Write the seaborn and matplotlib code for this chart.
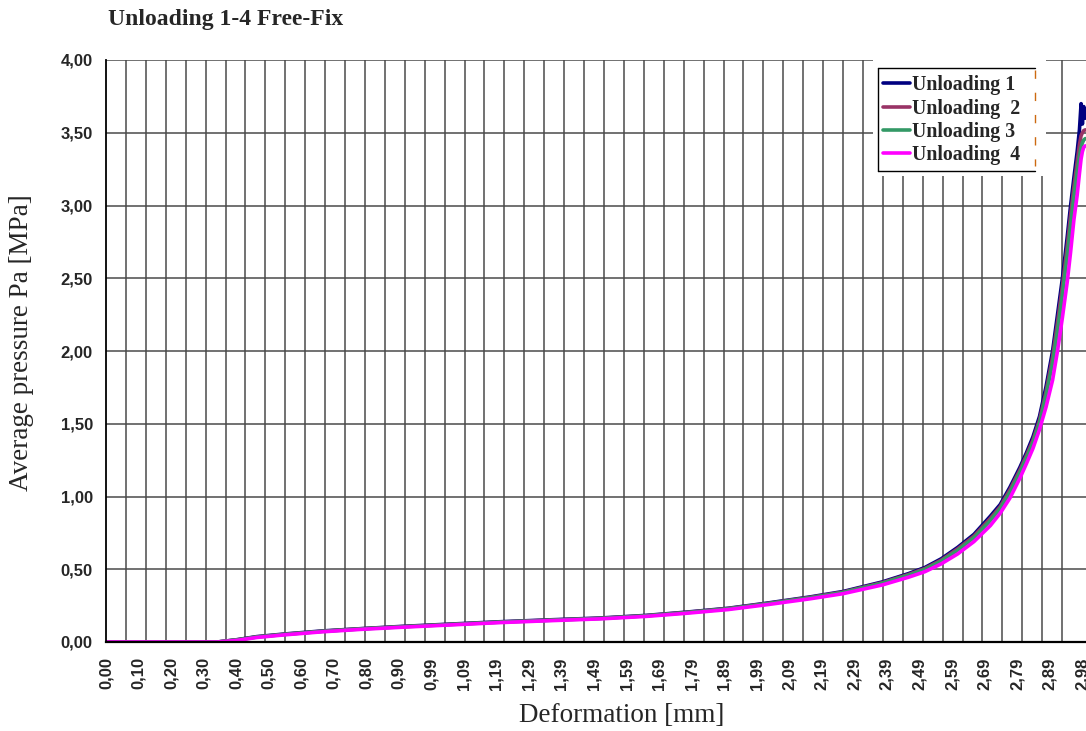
import numpy as np
import pandas as pd
import matplotlib
matplotlib.use("Agg")
import matplotlib.pyplot as plt
from matplotlib.lines import Line2D
from matplotlib.patches import Rectangle
import seaborn as sns

# Measured unloading curves: deformation [mm] vs. average pressure [MPa]
deformation_mm = [0.00, 0.34, 0.40, 0.46, 0.55, 0.66, 0.78, 0.90, 1.05, 1.20,
                  1.35, 1.51, 1.65, 1.77, 1.90, 2.02, 2.15, 2.25, 2.37, 2.45,
                  2.50, 2.55, 2.60, 2.65, 2.70, 2.73, 2.76, 2.79, 2.81, 2.83,
                  2.85, 2.87, 2.89, 2.905, 2.92, 2.935, 2.945, 2.955, 2.965, 2.972,
                  2.977, 2.981, 2.985, 2.990]

unloading_1 = [0.000, 0.000, 0.016, 0.037, 0.056, 0.076, 0.092, 0.107, 0.123, 0.139,
               0.152, 0.165, 0.183, 0.205, 0.232, 0.268, 0.310, 0.347, 0.413, 0.470,
               0.512, 0.572, 0.650, 0.740, 0.865, 0.945, 1.065, 1.200, 1.300, 1.410,
               1.550, 1.755, 2.000, 2.250, 2.500, 2.790, 3.000, 3.190, 3.370, 3.520,
               3.700, 3.560, 3.680, 3.600]

unloading_2 = [0.000, 0.000, 0.015, 0.035, 0.054, 0.074, 0.091, 0.105, 0.121, 0.137,
               0.150, 0.163, 0.181, 0.203, 0.230, 0.265, 0.307, 0.343, 0.408, 0.464,
               0.505, 0.563, 0.640, 0.728, 0.850, 0.930, 1.048, 1.182, 1.282, 1.388,
               1.525, 1.720, 1.960, 2.195, 2.445, 2.725, 2.935, 3.125, 3.300, 3.420,
               3.480, 3.500, 3.515, 3.520]

unloading_3 = [0.000, 0.000, 0.014, 0.034, 0.053, 0.073, 0.090, 0.104, 0.120, 0.136,
               0.149, 0.162, 0.180, 0.201, 0.228, 0.263, 0.304, 0.340, 0.404, 0.459,
               0.499, 0.556, 0.630, 0.717, 0.835, 0.918, 1.030, 1.165, 1.265, 1.370,
               1.505, 1.695, 1.920, 2.140, 2.390, 2.660, 2.870, 3.060, 3.230, 3.340,
               3.400, 3.430, 3.450, 3.460]

unloading_4 = [0.000, 0.000, 0.011, 0.031, 0.050, 0.070, 0.087, 0.101, 0.117, 0.133,
               0.146, 0.159, 0.176, 0.197, 0.223, 0.257, 0.297, 0.332, 0.392, 0.445,
               0.483, 0.537, 0.605, 0.690, 0.800, 0.885, 0.990, 1.125, 1.225, 1.330,
               1.460, 1.615, 1.800, 2.000, 2.230, 2.480, 2.680, 2.900, 3.070, 3.220,
               3.320, 3.370, 3.400, 3.410]

series_names = ["Unloading 1", "Unloading  2", "Unloading 3", "Unloading  4"]
series_colors = ["#000080", "#993366", "#339966", "#FF00FF"]

x_tick_labels = ["0,00", "0,10", "0,20", "0,30", "0,40", "0,50", "0,60", "0,70",
                 "0,80", "0,90", "0,99", "1,09", "1,19", "1,29", "1,39", "1,49",
                 "1,59", "1,69", "1,79", "1,89", "1,99", "2,09", "2,19", "2,29",
                 "2,39", "2,49", "2,59", "2,69", "2,79", "2,89", "2,98"]
y_tick_values = [0.0, 0.5, 1.0, 1.5, 2.0, 2.5, 3.0, 3.5, 4.0]

# long-format table for seaborn
frames = []
for name, values in zip(series_names, [unloading_1, unloading_2, unloading_3, unloading_4]):
    frames.append(pd.DataFrame({"Deformation": deformation_mm,
                                "Pressure": values,
                                "Series": name}))
df = pd.concat(frames, ignore_index=True)

sns.set_style("white")
plt.rcParams["font.family"] = ["Liberation Serif", "DejaVu Serif"]

W, H = 1086, 731
fig = plt.figure(figsize=(W / 100, H / 100), dpi=100)


def fx(px):
    return px / W


def fy(py):
    return 1 - py / H


ax = fig.add_axes([fx(106), fy(642), fx(1086) - fx(106), fy(60) - fy(642)])

sns.lineplot(data=df, x="Deformation", y="Pressure", hue="Series",
             hue_order=series_names, palette=dict(zip(series_names, series_colors)),
             sort=False, estimator=None, linewidth=2.6, legend=False, ax=ax)

ax.set_xlim(0, 2.992)
ax.set_ylim(0, 4)

# category-style x axis: labels every 49 samples, gridlines every 30 samples
label_pos = np.linspace(0, 2.98, len(x_tick_labels))
grid_pos = np.linspace(0, 2.98, 50)
ax.set_xticks(label_pos)
ax.set_xticklabels(x_tick_labels, rotation=90, fontfamily="Liberation Sans",
                   fontweight="bold", fontsize=12)
ax.set_xticks(grid_pos, minor=True)
ax.tick_params(axis="x", which="major", length=0, pad=11)
ax.tick_params(axis="x", which="minor", length=4.5, width=1.0, direction="out",
               color="#333333")

ax.set_yticks(y_tick_values)
ax.set_yticklabels([f"{v:.2f}".replace(".", ",") for v in y_tick_values],
                   fontfamily="Liberation Sans", fontweight="bold", fontsize=12)
ax.tick_params(axis="y", which="major", length=4.5, width=1.0, direction="out",
               color="#222222", pad=5)

ax.set_axisbelow(True)
ax.grid(False, axis="x", which="major")
ax.grid(True, axis="x", which="minor", color="#4a4a4a", linewidth=1.1)
ax.grid(True, axis="y", which="major", color="#4a4a4a", linewidth=1.1)

for side in ("top", "right"):
    ax.spines[side].set_visible(False)
ax.spines["left"].set_color("black")
ax.spines["left"].set_linewidth(1.3)
ax.spines["bottom"].set_color("black")
ax.spines["bottom"].set_linewidth(1.6)

ax.set_xlabel("Deformation [mm]", fontsize=19.5)
ax.xaxis.set_label_coords(0.5265, (642 - 703) / 582)
ax.set_ylabel("Average pressure Pa [MPa]", fontsize=19.5)
ax.yaxis.set_label_coords((34 - 106) / 980, 0.515)

fig.text(fx(108), fy(20), "Unloading 1-4 Free-Fix", fontsize=17,
         fontweight="bold", ha="left", va="center")

# legend panel
fig.add_artist(Rectangle((fx(873), fy(176)), fx(1046) - fx(873), fy(58) - fy(176),
                         transform=fig.transFigure, facecolor="white",
                         edgecolor="none", zorder=5))
for xs, ys in [((878, 1035), (68, 68)), ((878, 1035), (171, 171)),
               ((878, 878), (68, 171))]:
    fig.add_artist(Line2D([fx(xs[0]), fx(xs[1])], [fy(ys[0]), fy(ys[1])],
                          transform=fig.transFigure, color="black",
                          linewidth=1.0, zorder=6))
fig.add_artist(Line2D([fx(1035), fx(1035)], [fy(70), fy(166)],
                      transform=fig.transFigure, color="#CC6a10",
                      linewidth=1.0, linestyle=(0, (6, 10)), zorder=6))

handles = [Line2D([], [], color=c, linewidth=2.6) for c in series_colors]
leg = fig.legend(handles=handles, labels=series_names, loc="upper left",
                 bbox_to_anchor=(fx(876), fy(68)), bbox_transform=fig.transFigure,
                 frameon=False, prop={"family": "Liberation Serif",
                                      "weight": "bold", "size": 14.3},
                 handlelength=1.35, handletextpad=0.1, labelspacing=0.17,
                 borderpad=0.36, borderaxespad=0)
leg.set_zorder(7)

fig.savefig("out.png", dpi=100)
